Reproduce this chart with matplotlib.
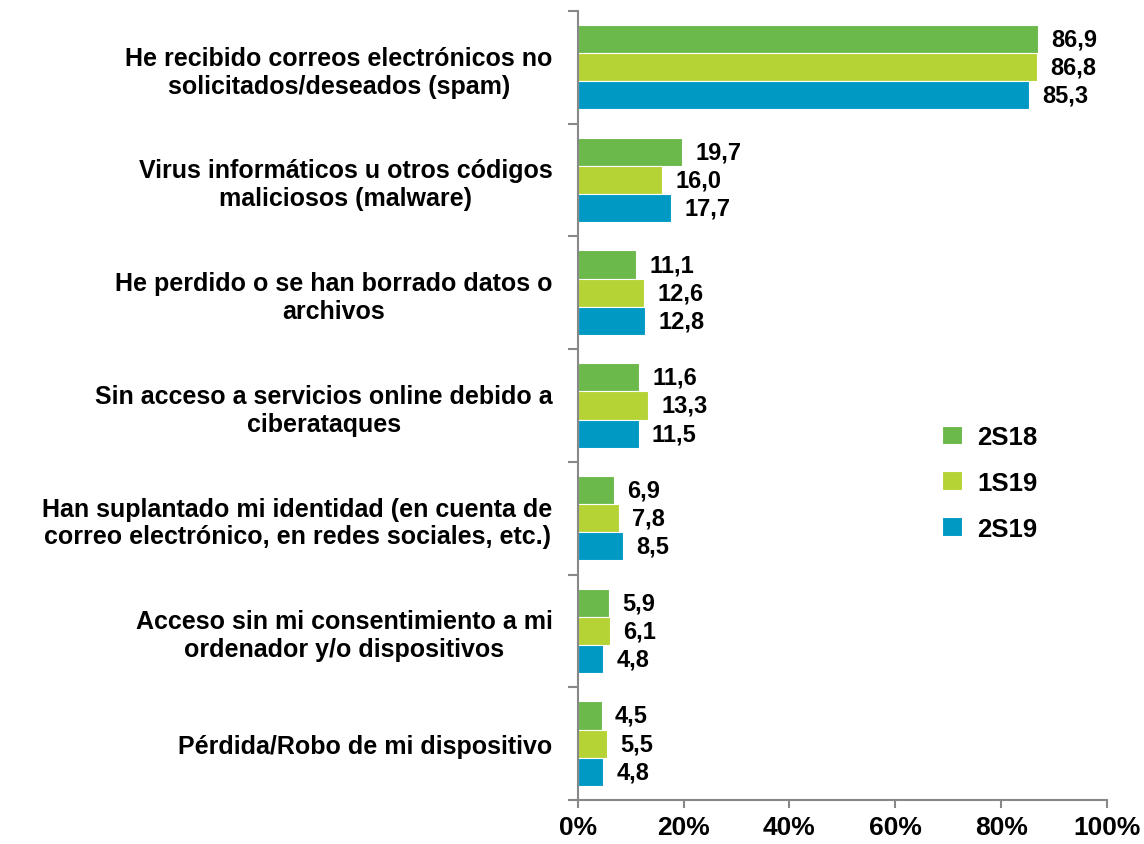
import numpy as np
import matplotlib.pyplot as plt

plt.rcParams['font.family'] = ['Liberation Sans', 'DejaVu Sans']
plt.rcParams['font.weight'] = 'bold'

categorias = [
    'He recibido correos electrónicos no\nsolicitados/deseados (spam)',
    'Virus informáticos u otros códigos\nmaliciosos (malware)',
    'He perdido o se han borrado datos o\narchivos',
    'Sin acceso a servicios online debido a\nciberataques',
    'Han suplantado mi identidad (en cuenta de\ncorreo electrónico, en redes sociales, etc.)',
    'Acceso sin mi consentimiento a mi\nordenador y/o dispositivos',
    'Pérdida/Robo de mi dispositivo',
]
series = ['2S18', '1S19', '2S19']
v_2s18 = [86.9, 19.7, 11.1, 11.6, 6.9, 5.9, 4.5]
v_1s19 = [86.8, 16.0, 12.6, 13.3, 7.8, 6.1, 5.5]
v_2s19 = [85.3, 17.7, 12.8, 11.5, 8.5, 4.8, 4.8]
colores = ['#6ab94a', '#b5d334', '#0099c4']

fig = plt.figure(figsize=(11.44, 8.45), dpi=100)
ax = fig.add_axes([0.505, 0.052, 0.4627, 0.934])

n = len(categorias)
y = np.arange(n)
h = 0.25
datos = [v_2s18, v_1s19, v_2s19]
for i, (vals, c, nom) in enumerate(zip(datos, colores, series)):
    pos = y - h + i * h
    ax.barh(pos, vals, height=h, color=c, edgecolor='white',
            linewidth=0.8, label=nom)
    for p, v in zip(pos, vals):
        ax.text(v + 2.5, p, f'{v:.1f}'.replace('.', ','), va='center',
                ha='left', fontsize=17, fontweight='bold')

ax.set_xlim(0, 100)
ax.set_ylim(n - 0.5, -0.5)
ax.set_xticks(np.arange(0, 101, 20))
ax.set_xticklabels([f'{t}%' for t in range(0, 101, 20)], fontsize=19,
                   fontweight='bold')
ax.set_yticks(y)
ax.set_yticklabels(categorias, fontsize=18, fontweight='bold',
                   multialignment='center')
ax.set_yticks(np.arange(-0.5, n, 1), minor=True)
ax.tick_params(axis='y', which='major', length=0, pad=18)
ax.tick_params(axis='y', which='minor', length=7, color='#888888', width=1.5)
ax.tick_params(axis='x', length=6, color='#888888', width=1.5, pad=5)

for s in ['top', 'right']:
    ax.spines[s].set_visible(False)
for s in ['left', 'bottom']:
    ax.spines[s].set_color('#888888')
    ax.spines[s].set_linewidth(1.5)

ax.legend(loc='center left', bbox_to_anchor=(0.645, 0.402), frameon=False,
          prop={'size': 18.5, 'weight': 'bold'}, handlelength=0.75,
          handleheight=0.75, labelspacing=0.85, handletextpad=0.6)

fig.savefig('out.png', dpi=100)
